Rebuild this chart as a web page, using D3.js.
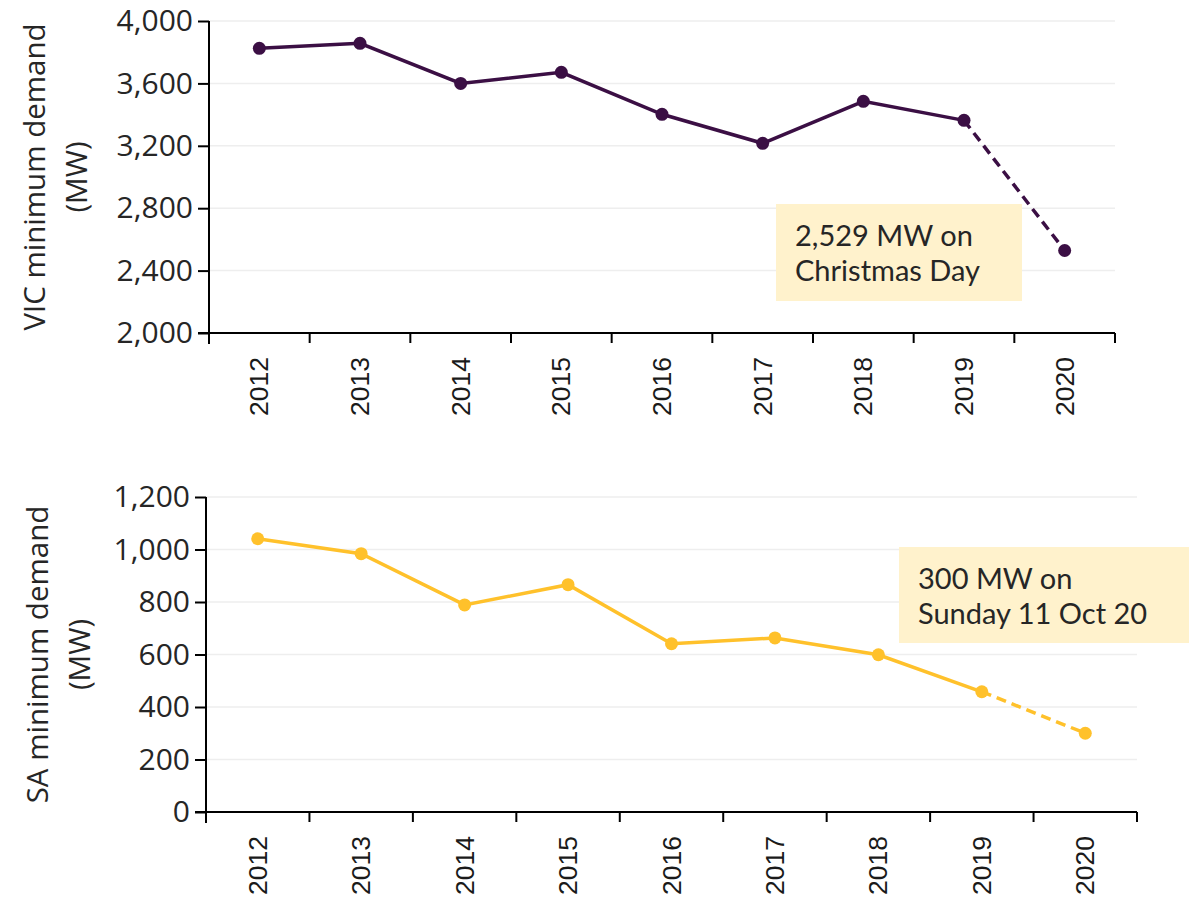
<!DOCTYPE html>
<html>
<head>
<meta charset="utf-8">
<script src="https://cdn.jsdelivr.net/npm/d3@7"></script>
<style>
  body { margin: 0; background: #fff; }
  svg { display: block; }
</style>
</head>
<body>
<svg id="chart" width="1189" height="903"></svg>
<script>
// Minimum operational demand by year; 2020 is the new record low (dashed segment).
const years = ["2012", "2013", "2014", "2015", "2016", "2017", "2018", "2019", "2020"];
const vicValues = [3825, 3857, 3600, 3671, 3402, 3216, 3485, 3363, 2529];
const saValues  = [1041, 984, 789, 866, 641, 663, 599, 458, 300];
const vicTicks = [2000, 2400, 2800, 3200, 3600, 4000];
const saTicks  = [0, 200, 400, 600, 800, 1000, 1200];
const vicNote = ["2,529 MW on", "Christmas Day"];
const saNote  = ["300 MW on", "Sunday 11 Oct 20"];

const svg = d3.select("#chart");
const fmt = d3.format(",");

function drawPanel(cfg) {
  const { values, ticks, color, left, right, top, bottom, titleLines, titleX, note } = cfg;

  const x = d3.scaleBand().domain(years).range([left, right]).padding(0);
  const y = d3.scaleLinear().domain([ticks[0], ticks[ticks.length - 1]]).range([bottom, top]);
  const cx = d => x(d) + x.bandwidth() / 2;

  const g = svg.append("g");

  // light horizontal gridlines
  g.selectAll(null)
    .data(ticks.slice(1))
    .enter().append("line")
    .attr("x1", left).attr("x2", right)
    .attr("y1", d => y(d)).attr("y2", d => y(d))
    .attr("stroke", "#eeeeee").attr("stroke-width", 1.5);

  // y axis
  const yAxis = g.append("g")
    .attr("transform", `translate(${left},0)`)
    .call(d3.axisLeft(y).tickValues(ticks).tickFormat(fmt).tickSize(11).tickPadding(5));
  yAxis.select(".domain").attr("stroke", "#000").attr("stroke-width", 2)
    .attr("d", `M0,${top}V${bottom + 11}`);
  yAxis.selectAll(".tick line").attr("stroke", "#000").attr("stroke-width", 2);
  yAxis.selectAll(".tick text")
    .attr("font-family", "'Open Sans', sans-serif")
    .attr("font-size", 30).attr("fill", "#262626");

  // x axis with category boundary ticks
  const xAxis = g.append("g").attr("transform", `translate(0,${bottom})`);
  xAxis.append("line")
    .attr("x1", left - 11).attr("x2", right)
    .attr("stroke", "#000").attr("stroke-width", 2);
  xAxis.selectAll(null)
    .data(years.slice(1).map(d => x(d)).concat([right]))
    .enter().append("line")
    .attr("x1", d => d).attr("x2", d => d)
    .attr("y1", 0).attr("y2", 10)
    .attr("stroke", "#000").attr("stroke-width", 2);
  xAxis.selectAll(null)
    .data(years)
    .enter().append("text")
    .attr("transform", d => `translate(${cx(d) + 9},${24}) rotate(-90)`)
    .attr("text-anchor", "end")
    .attr("font-family", "'Liberation Sans', Arial, sans-serif")
    .attr("font-size", 26.5).attr("fill", "#1a1a1a")
    .text(d => d);

  // axis title (two lines, rotated)
  const midY = (top + bottom) / 2;
  titleLines.forEach((t, i) => {
    g.append("text")
      .attr("transform", `translate(${titleX + i * 42},${midY}) rotate(-90)`)
      .attr("text-anchor", "middle")
      .attr("font-family", "'Open Sans', sans-serif")
      .attr("font-size", 29.5).attr("fill", "#262626")
      .text(t);
  });

  // solid line 2012–2019, dashed 2019–2020
  const pts = years.map((d, i) => [cx(d), y(values[i])]);
  const line = d3.line();
  g.append("path")
    .attr("d", line(pts.slice(0, 8)))
    .attr("fill", "none").attr("stroke", color).attr("stroke-width", 3.5);
  g.append("path")
    .attr("d", line(pts.slice(7)))
    .attr("fill", "none").attr("stroke", color).attr("stroke-width", 3.5)
    .attr("stroke-dasharray", "10 6");

  g.selectAll(null)
    .data(pts)
    .enter().append("circle")
    .attr("cx", d => d[0]).attr("cy", d => d[1])
    .attr("r", 6.5).attr("fill", color);

  // annotation box
  g.append("rect")
    .attr("x", note.x).attr("y", note.y)
    .attr("width", note.w).attr("height", note.h)
    .attr("fill", "#fff2cc");
  note.lines.forEach((t, i) => {
    g.append("text")
      .attr("x", note.x + 19).attr("y", note.y + 42 + i * 35)
      .attr("font-family", "Lato, sans-serif")
      .attr("font-size", 29).attr("fill", "#262626")
      .text(t);
  });
}

drawPanel({
  values: vicValues, ticks: vicTicks, color: "#3b0f44",
  left: 209, right: 1115, top: 21, bottom: 333,
  titleLines: ["VIC minimum demand", "(MW)"], titleX: 45,
  note: { x: 776, y: 204, w: 246, h: 97, lines: vicNote }
});

drawPanel({
  values: saValues, ticks: saTicks, color: "#ffc12b",
  left: 206, right: 1137, top: 497, bottom: 812,
  titleLines: ["SA minimum demand", "(MW)"], titleX: 48,
  note: { x: 899, y: 547, w: 290, h: 96, lines: saNote }
});
</script>
</body>
</html>
